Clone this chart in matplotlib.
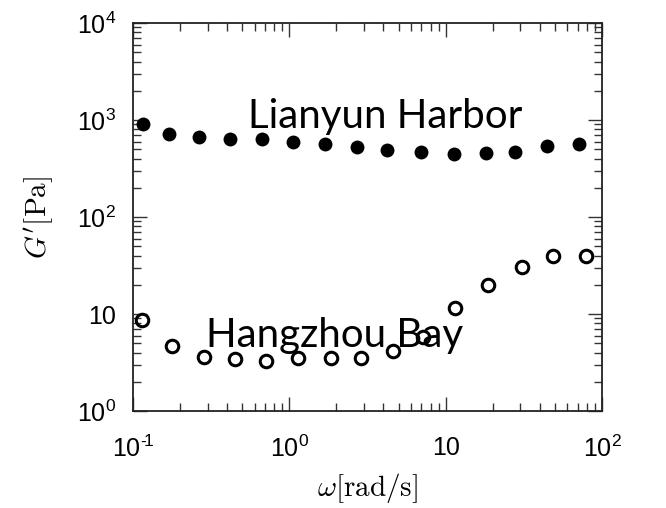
import numpy as np
import matplotlib.pyplot as plt
from matplotlib.ticker import LogLocator, FixedLocator, FixedFormatter, NullFormatter

plt.rcParams['mathtext.fontset'] = 'custom'
plt.rcParams['mathtext.rm'] = 'Liberation Sans'
plt.rcParams['mathtext.it'] = 'Liberation Sans:italic'

# storage modulus vs frequency
w_lianyun = [0.116, 0.170, 0.263, 0.417, 0.671, 1.06, 1.70, 2.72, 4.20, 6.92, 11.3, 18.0, 27.9, 44.3, 71.3]
g_lianyun = [903, 717, 673, 632, 632, 593, 566, 523, 491, 465, 443, 454, 465, 539, 561]

w_hangzhou = [0.114, 0.177, 0.284, 0.449, 0.706, 1.135, 1.84, 2.89, 4.60, 7.19, 11.5, 18.6, 30.6, 48.9, 79.0]
g_hangzhou = [8.67, 4.68, 3.63, 3.41, 3.28, 3.49, 3.49, 3.54, 4.16, 5.84, 11.4, 19.9, 30.8, 39.6, 39.6]

xticks = [0.1, 1, 10, 100]
xticklabels = ['$10^{\u2010\\!1}$', '$10^{0}$', '10', '$10^{2}$']
yticks = [1, 10, 100, 1000, 10000]
yticklabels = ['$10^{0}$', '10', '$10^{2}$', '$10^{3}$', '$10^{4}$']

fig = plt.figure(figsize=(6.66, 5.08), dpi=100)
ax = fig.add_axes([133 / 666, 1 - 411 / 508, 469 / 666, 388 / 508])

ax.plot(w_lianyun, g_lianyun, 'o', color='black', markersize=10, markeredgewidth=0)
ax.plot(w_hangzhou, g_hangzhou, 'o', markerfacecolor='none', markeredgecolor='black',
        markersize=9, markeredgewidth=2.2)

ax.set_xscale('log')
ax.set_yscale('log')
ax.set_xlim(0.1, 100)
ax.set_ylim(1, 10000)

ax.xaxis.set_major_locator(FixedLocator(xticks))
ax.xaxis.set_major_formatter(FixedFormatter(xticklabels))
ax.yaxis.set_major_locator(FixedLocator(yticks))
ax.yaxis.set_major_formatter(FixedFormatter(yticklabels))
ax.xaxis.set_minor_locator(LogLocator(base=10, subs=np.arange(2, 10)))
ax.yaxis.set_minor_locator(LogLocator(base=10, subs=np.arange(2, 10)))
ax.xaxis.set_minor_formatter(NullFormatter())
ax.yaxis.set_minor_formatter(NullFormatter())

ax.tick_params(which='both', direction='in', top=True, right=True, width=1, color='#333333')
ax.tick_params(which='major', length=10)
ax.tick_params(which='minor', length=6)
ax.tick_params(axis='x', which='major', pad=18, labelsize=18)
ax.tick_params(axis='y', which='major', pad=12, labelsize=18)
for lbl in ax.get_xticklabels() + ax.get_yticklabels():
    lbl.set_fontfamily('Liberation Sans')
for s in ax.spines.values():
    s.set_linewidth(1.3)
    s.set_color('#222222')

ax.set_xlabel(r"$\omega[\mathrm{rad/s}]$", fontsize=21, math_fontfamily='cm', labelpad=6)
ax.set_ylabel(r"$G'[\mathrm{Pa}]$", fontsize=21, math_fontfamily='cm', labelpad=15)

ax.text(0.544, 828, 'Lianyun Harbor', fontsize=29, family='Lato', va='baseline')
ax.text(0.293, 4.57, 'Hangzhou Bay', fontsize=29, family='Lato', va='baseline')

fig.savefig('out.png', dpi=100)
